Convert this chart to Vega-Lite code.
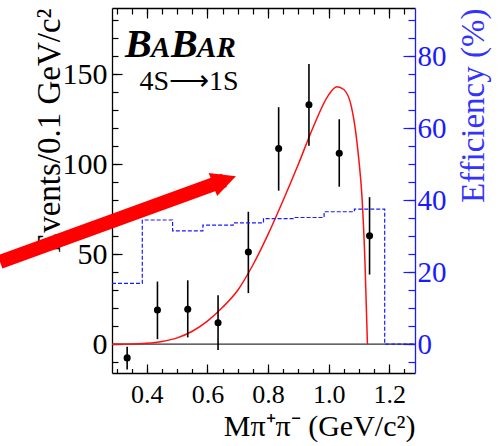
{
  "$schema": "https://vega.github.io/schema/vega-lite/v6.json",
  "width": 303,
  "height": 365,
  "autosize": {"type": "none"},
  "padding": {"left": 112, "top": 8, "right": 84, "bottom": 73},
  "background": "white",
  "config": {
    "view": {"stroke": null},
    "axis": {
      "grid": false,
      "labelFont": "Liberation Serif",
      "titleFont": "Liberation Serif",
      "titleFontWeight": "normal",
      "domainColor": "black",
      "tickColor": "black",
      "labelColor": "black",
      "titleColor": "black",
      "domainWidth": 1.3,
      "tickWidth": 1.2
    }
  },
  "datasets": {
    "events": [
      {"m": 0.335, "n": -7.6, "lo": -14.0, "hi": -1.4},
      {"m": 0.435, "n": 19.0, "lo": 2.8, "hi": 34.8},
      {"m": 0.535, "n": 19.4, "lo": 3.8, "hi": 35.5},
      {"m": 0.635, "n": 11.9, "lo": -3.2, "hi": 27.2},
      {"m": 0.735, "n": 51.2, "lo": 28.4, "hi": 73.6},
      {"m": 0.835, "n": 108.7, "lo": 85.3, "hi": 131.7},
      {"m": 0.935, "n": 133.0, "lo": 110.3, "hi": 155.7},
      {"m": 1.035, "n": 106.1, "lo": 87.5, "hi": 125.0},
      {"m": 1.135, "n": 60.2, "lo": 38.7, "hi": 81.7}
    ],
    "fit": [
      {"m": 0.285, "f": 0},
      {"m": 0.35, "f": 0.1},
      {"m": 0.4, "f": 0.5},
      {"m": 0.45, "f": 1.5},
      {"m": 0.5, "f": 3.5},
      {"m": 0.55, "f": 7.2},
      {"m": 0.6, "f": 12.8},
      {"m": 0.65, "f": 20.5},
      {"m": 0.7, "f": 30},
      {"m": 0.75, "f": 44},
      {"m": 0.8, "f": 61},
      {"m": 0.85, "f": 80},
      {"m": 0.9, "f": 100},
      {"m": 0.95, "f": 121},
      {"m": 1.0, "f": 138.5},
      {"m": 1.027, "f": 143},
      {"m": 1.05, "f": 141.5},
      {"m": 1.075, "f": 132},
      {"m": 1.09, "f": 117},
      {"m": 1.1, "f": 102},
      {"m": 1.11, "f": 82},
      {"m": 1.12, "f": 45},
      {"m": 1.128, "f": 0}
    ],
    "efficiency": [
      {"m": 0.285, "eff": 16.9},
      {"m": 0.385, "eff": 34.5},
      {"m": 0.485, "eff": 31.5},
      {"m": 0.585, "eff": 33.1},
      {"m": 0.685, "eff": 33.7},
      {"m": 0.785, "eff": 34.9},
      {"m": 0.885, "eff": 35.2},
      {"m": 0.985, "eff": 36.8},
      {"m": 1.085, "eff": 37.5},
      {"m": 1.185, "eff": 0},
      {"m": 1.285, "eff": 0}
    ],
    "one": [{}]
  },
  "layer": [
    {
      "layer": [
        {
          "data": {"name": "one"},
          "mark": {"type": "rule", "color": "#333333", "strokeWidth": 1.3},
          "encoding": {
            "y": {"datum": 0, "type": "quantitative", "scale": {"domain": [-16, 186.8]}, "axis": null}
          }
        },
        {
          "data": {"name": "fit"},
          "mark": {"type": "line", "interpolate": "monotone", "color": "#ff1010", "strokeWidth": 1.5},
          "encoding": {
            "x": {
              "field": "m", "type": "quantitative", "scale": {"domain": [0.285, 1.285]},
              "axis": {"orient": "top", "offset": -365, "values": [0.3, 0.35, 0.4, 0.45, 0.5, 0.55, 0.6, 0.65, 0.7, 0.75, 0.8, 0.85, 0.9, 0.95, 1, 1.05, 1.1, 1.15, 1.2, 1.25], "tickSize": 4.5, "labels": false, "domain": false, "title": null}
            },
            "y": {
              "field": "f", "type": "quantitative", "scale": {"domain": [-16, 186.8]},
              "axis": {"orient": "right", "offset": -303, "values": [-10, 0, 10, 20, 30, 40, 50, 60, 70, 80, 90, 100, 110, 120, 130, 140, 150, 160, 170, 180], "tickSize": 6, "labels": false, "domain": false, "title": null}
            }
          }
        },
        {
          "data": {"name": "events"},
          "mark": {"type": "rule", "color": "black", "strokeWidth": 1.6},
          "encoding": {
            "x": {
              "field": "m", "type": "quantitative", "scale": {"domain": [0.285, 1.285]},
              "axis": {"orient": "bottom", "values": [0.4, 0.6, 0.8, 1.0, 1.2], "ticks": false, "labelPadding": 8, "labelFontSize": 26, "title": "Mπ⁺π⁻ (GeV/c²)", "titleFontSize": 30, "titleAnchor": "end", "titlePadding": 4}
            },
            "y": {
              "field": "lo", "type": "quantitative", "scale": {"domain": [-16, 186.8]},
              "axis": {"orient": "left", "values": [0, 50, 100, 150], "ticks": false, "labelPadding": 5, "labelFontSize": 30, "title": "Events/0.1 GeV/c²", "titleFontSize": 33, "titleAnchor": "end", "titlePadding": -4}
            },
            "y2": {"field": "hi"}
          }
        },
        {
          "data": {"name": "events"},
          "mark": {"type": "circle", "color": "black", "size": 50, "opacity": 1},
          "encoding": {
            "x": {
              "field": "m", "type": "quantitative", "scale": {"domain": [0.285, 1.285]},
              "axis": {"orient": "top", "offset": -365, "values": [0.4, 0.6, 0.8, 1.0, 1.2], "tickSize": 9, "labels": false, "domain": false, "title": null}
            },
            "y": {
              "field": "n", "type": "quantitative", "scale": {"domain": [-16, 186.8]},
              "axis": {"orient": "right", "offset": -303, "values": [0, 50, 100, 150], "tickSize": 10, "labels": false, "domain": false, "title": null}
            }
          }
        },
        {
          "data": {"name": "one"},
          "mark": {"type": "text", "text": "B", "font": "Liberation Serif", "fontWeight": "bold", "fontStyle": "italic", "fontSize": 40, "align": "left", "baseline": "alphabetic", "color": "black"},
          "encoding": {
            "x": {
              "datum": 0.3279, "type": "quantitative", "scale": {"domain": [0.285, 1.285]},
              "axis": {"orient": "bottom", "offset": -365, "values": [0.4, 0.6, 0.8, 1.0, 1.2], "tickSize": 10, "labels": false, "domain": true, "title": null}
            },
            "y": {"datum": 159.6, "type": "quantitative", "scale": {"domain": [-16, 186.8]}, "axis": null}
          }
        },
        {
          "data": {"name": "one"},
          "mark": {"type": "text", "text": "A", "font": "Liberation Serif", "fontWeight": "bold", "fontStyle": "italic", "fontSize": 29, "align": "left", "baseline": "alphabetic", "color": "black"},
          "encoding": {
            "x": {
              "datum": 0.414, "type": "quantitative", "scale": {"domain": [0.285, 1.285]},
              "axis": {"orient": "bottom", "offset": -365, "values": [0.3, 0.35, 0.4, 0.45, 0.5, 0.55, 0.6, 0.65, 0.7, 0.75, 0.8, 0.85, 0.9, 0.95, 1, 1.05, 1.1, 1.15, 1.2, 1.25], "tickSize": 6, "labels": false, "domain": false, "title": null}
            },
            "y": {"datum": 159.6, "type": "quantitative", "scale": {"domain": [-16, 186.8]}, "axis": null}
          }
        },
        {
          "data": {"name": "one"},
          "mark": {"type": "text", "text": "B", "font": "Liberation Serif", "fontWeight": "bold", "fontStyle": "italic", "fontSize": 40, "align": "left", "baseline": "alphabetic", "color": "black"},
          "encoding": {
            "x": {"datum": 0.4797, "type": "quantitative", "scale": {"domain": [0.285, 1.285]}, "axis": null},
            "y": {"datum": 159.6, "type": "quantitative", "scale": {"domain": [-16, 186.8]}, "axis": null}
          }
        },
        {
          "data": {"name": "one"},
          "mark": {"type": "text", "text": "AR", "font": "Liberation Serif", "fontWeight": "bold", "fontStyle": "italic", "fontSize": 29, "align": "left", "baseline": "alphabetic", "color": "black"},
          "encoding": {
            "x": {"datum": 0.5658, "type": "quantitative", "scale": {"domain": [0.285, 1.285]}, "axis": null},
            "y": {"datum": 159.6, "type": "quantitative", "scale": {"domain": [-16, 186.8]}, "axis": null}
          }
        },
        {
          "data": {"name": "one"},
          "mark": {"type": "text", "text": "4S⟶1S", "font": "Liberation Serif", "fontSize": 28, "align": "center", "baseline": "alphabetic", "color": "black"},
          "encoding": {
            "x": {"datum": 0.539, "type": "quantitative", "scale": {"domain": [0.285, 1.285]}, "axis": null},
            "y": {"datum": 141.2, "type": "quantitative", "scale": {"domain": [-16, 186.8]}, "axis": null}
          }
        },
        {
          "data": {"name": "one"},
          "mark": {"type": "rule", "color": "#ff0000", "strokeWidth": 14, "strokeCap": "butt"},
          "encoding": {
            "x": {"datum": -0.0846, "type": "quantitative", "scale": {"domain": [0.285, 1.285]}, "axis": null},
            "y": {"datum": 45.7, "type": "quantitative", "scale": {"domain": [-16, 186.8]}, "axis": null},
            "x2": {"datum": 0.656},
            "y2": {"datum": 91.0}
          }
        },
        {
          "data": {"name": "one"},
          "mark": {"type": "point", "shape": "M1,0L-1,-1L-1,1Z", "filled": true, "color": "#ff0000", "opacity": 1, "size": 600, "angle": -20},
          "encoding": {
            "x": {"datum": 0.656, "type": "quantitative", "scale": {"domain": [0.285, 1.285]}, "axis": null},
            "y": {"datum": 91.0, "type": "quantitative", "scale": {"domain": [-16, 186.8]}, "axis": null}
          }
        },
        {
          "data": {"name": "one"},
          "mark": {"type": "rule", "color": "#f5a3a3", "strokeWidth": 1},
          "encoding": {
            "x": {"datum": 0.087, "type": "quantitative", "scale": {"domain": [0.285, 1.285]}, "axis": null},
            "y": {"datum": -56.9, "type": "quantitative", "scale": {"domain": [-16, 186.8]}, "axis": null},
            "x2": {"datum": 1.57}
          }
        }
      ],
      "resolve": {"axis": {"x": "independent", "y": "independent"}}
    },
    {
      "layer": [
        {
          "data": {"name": "efficiency"},
          "mark": {"type": "line", "interpolate": "step-after", "color": "#1a1aff", "strokeWidth": 1.2, "strokeDash": [4, 2]},
          "encoding": {
            "x": {"field": "m", "type": "quantitative", "scale": {"domain": [0.285, 1.285]}, "axis": null},
            "y": {
              "field": "eff", "type": "quantitative", "scale": {"domain": [-8, 93.4]},
              "axis": {"orient": "right", "values": [0, 20, 40, 60, 80], "ticks": false, "domain": false, "labelPadding": 2, "labelFontSize": 29, "labelColor": "#1a1aff", "title": "Efficiency (%)", "titleColor": "#3333ff", "titleFontSize": 33, "titleAngle": -90, "titleAnchor": "end", "titlePadding": 44}
            }
          }
        },
        {
          "data": {"name": "efficiency"},
          "mark": {"type": "point", "opacity": 0},
          "encoding": {
            "x": {"field": "m", "type": "quantitative", "scale": {"domain": [0.285, 1.285]}, "axis": null},
            "y": {
              "field": "eff", "type": "quantitative", "scale": {"domain": [-8, 93.4]},
              "axis": {"orient": "left", "offset": -303, "values": [0, 20, 40, 60, 80], "tickSize": 12, "labels": false, "domain": true, "domainColor": "#1a1aff", "tickColor": "#1a1aff", "title": null}
            }
          }
        },
        {
          "data": {"name": "efficiency"},
          "mark": {"type": "point", "opacity": 0},
          "encoding": {
            "x": {"field": "m", "type": "quantitative", "scale": {"domain": [0.285, 1.285]}, "axis": null},
            "y": {
              "field": "eff", "type": "quantitative", "scale": {"domain": [-8, 93.4]},
              "axis": {"orient": "left", "offset": -303, "values": [-5, 0, 5, 10, 15, 20, 25, 30, 35, 40, 45, 50, 55, 60, 65, 70, 75, 80, 85, 90], "tickSize": 7, "labels": false, "domain": false, "tickColor": "#1a1aff", "title": null}
            }
          }
        }
      ],
      "resolve": {"axis": {"y": "independent"}}
    }
  ],
  "resolve": {"scale": {"y": "independent"}, "axis": {"x": "independent", "y": "independent"}}
}
